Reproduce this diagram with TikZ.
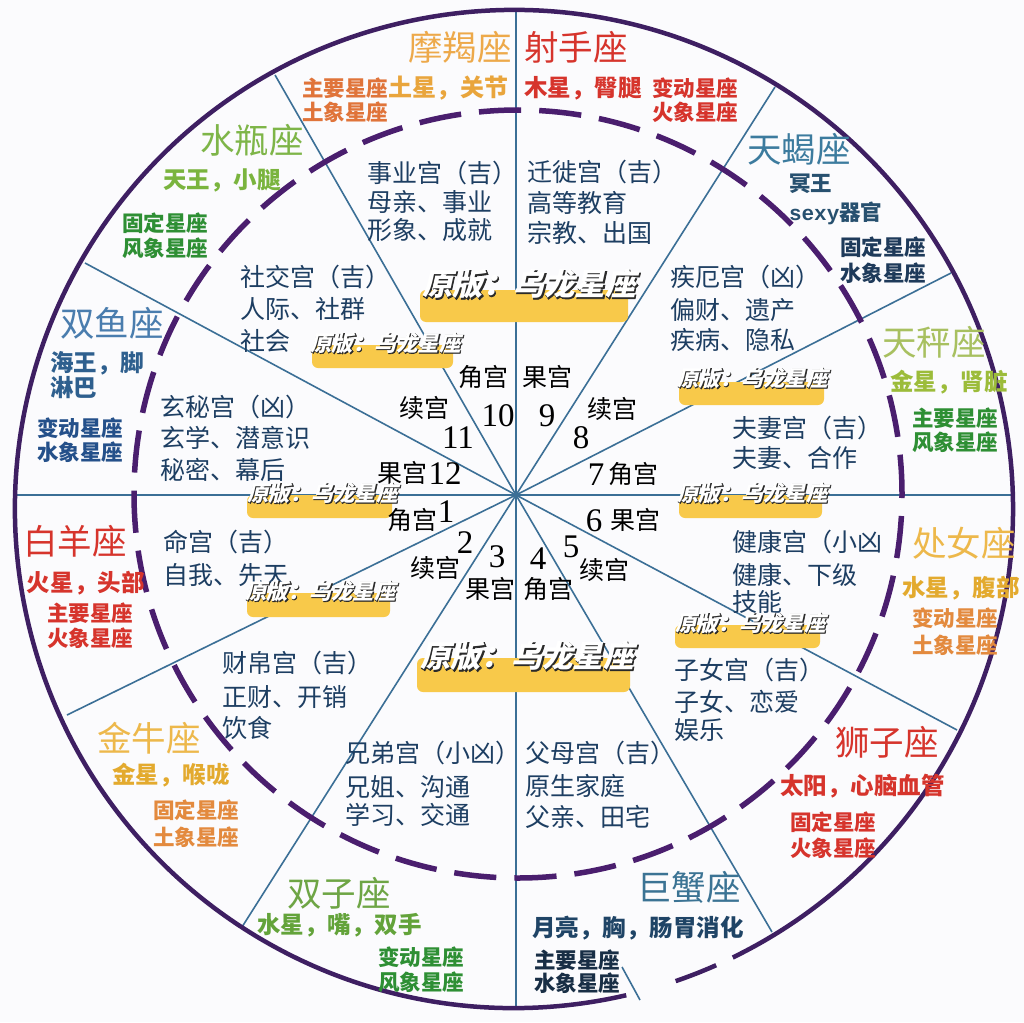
\documentclass[tikz,border=0pt]{standalone}
\usepackage{fontspec}
\newfontfamily\cjk{Noto Sans CJK SC}
\newfontfamily\cjkit{Noto Sans CJK SC}[FakeSlant=0.22]
\newfontfamily\cjkol{Noto Sans CJK SC}[FakeSlant=0.22, FakeBold=2.5]
\newfontfamily\numf{Liberation Serif}
\newfontfamily\monof{Liberation Mono}
\definecolor{bgc}{HTML}{FBFBFD}
\definecolor{housec}{HTML}{1D3E62}
\definecolor{linec}{HTML}{3B6F96}
\definecolor{outc}{HTML}{3E1F62}
\definecolor{dashc}{HTML}{4A1E6E}
\definecolor{barc}{HTML}{F8C94A}
\definecolor{shadc}{HTML}{2A2A2A}
\definecolor{mjA}{HTML}{EDA94A}
\definecolor{mjB}{HTML}{E0743A}
\definecolor{mjC}{HTML}{E9A53C}
\definecolor{redA}{HTML}{D6342C}
\definecolor{tealA}{HTML}{3C7B9E}
\definecolor{tealB}{HTML}{27506F}
\definecolor{navyA}{HTML}{1E3A5A}
\definecolor{oliveA}{HTML}{A8C060}
\definecolor{oliveB}{HTML}{9CBC3A}
\definecolor{greenD}{HTML}{2E8F34}
\definecolor{goldA}{HTML}{EDB84B}
\definecolor{goldB}{HTML}{E3AA2E}
\definecolor{orgA}{HTML}{E38A3E}
\definecolor{cancA}{HTML}{3B7394}
\definecolor{cancB}{HTML}{1F4466}
\definecolor{cancC}{HTML}{182E45}
\definecolor{gemA}{HTML}{6EA545}
\definecolor{gemB}{HTML}{63A33A}
\definecolor{pisA}{HTML}{4A7DAE}
\definecolor{pisB}{HTML}{2E5F8E}
\definecolor{pisC}{HTML}{24508A}
\definecolor{aqA}{HTML}{7EB548}
\definecolor{aqB}{HTML}{7AB43E}
\newcommand\ovltext[2]{%
\makebox[0pt][l]{\cjkol\color{shadc}\kern#2\raisebox{-#2}{#1}}%
\color{white}#1}
\begin{document}
\begin{tikzpicture}[x=1pt,y=-1pt,
 lbl/.style={inner sep=0pt, outer sep=0pt},
 house/.style={lbl, anchor=west, font=\cjk\fontsize{25}{25}\selectfont, text=housec, text height=22pt, text depth=3pt},
 sign/.style={lbl, anchor=west, font=\cjk\fontsize{34.5}{34.5}\selectfont, text height=30.4pt, text depth=4.1pt},
 planet/.style={lbl, anchor=west, font=\cjk\bfseries\fontsize{23.5}{23.5}\selectfont, text height=20.7pt, text depth=2.8pt},
 klass/.style={lbl, anchor=west, font=\cjk\bfseries\fontsize{21.5}{21.5}\selectfont, text height=18.9pt, text depth=2.6pt},
 kw/.style={lbl, anchor=center, font=\cjk\fontsize{25}{25}\selectfont, text=black, text height=22pt, text depth=3pt},
 num/.style={lbl, anchor=center, font=\numf\fontsize{33}{33}\selectfont, text=black, text height=22pt, text depth=0pt},
 ovs/.style={lbl, anchor=west, font=\cjkit\bfseries\fontsize{21.5}{21.5}\selectfont, text height=18.9pt, text depth=2.6pt},
 ovb/.style={lbl, anchor=west, font=\cjkit\bfseries\fontsize{30.5}{30.5}\selectfont, text height=26.8pt, text depth=3.7pt},
 bar/.style={fill=barc, rounded corners=6pt},
 radial/.style={draw=linec, line width=1.6pt},
]
% background / bounding box
\fill[bgc] (0,0) rectangle (1024,1022);
\path[use as bounding box] (0,0) rectangle (1024,1022);

% radial lines
\coordinate (c) at (516,495);
\coordinate (e1) at (516,10);
\coordinate (e2) at (775,87);
\coordinate (e3) at (951,273);
\coordinate (e4) at (1012,495);
\coordinate (e5) at (957,730);
\coordinate (e6) at (772,932);
\coordinate (e7) at (516,1008);
\coordinate (e8) at (242,927);
\coordinate (e9) at (67,715);
\coordinate (e10) at (15,495);
\coordinate (e11) at (85,263);
\coordinate (e12) at (275,75);
\foreach \i in {1,...,12} \draw[radial] (c) -- (e\i);
\coordinate (s1) at (622,967);
\coordinate (s2) at (640,1000);
\draw[radial] (s1) -- (s2);

% circles
\draw[outc, line width=4.5pt] (514,509) ++(77:499) arc[start angle=77, end angle=424, radius=499];
\draw[outc, line width=4.5pt] (514,509) ++(66.1:499) arc[start angle=66.1, end angle=71.1, radius=499];
\draw[dashc, line width=5.5pt, dash pattern=on 42.3pt off 18pt, dash phase=38.3pt] (518,494) circle[radius=384];

% yellow bars
\fill[bar] (420,290) rectangle (628,322);
\fill[bar] (312,345) rectangle (453,368);
\fill[bar] (679,382) rectangle (824,405);
\fill[bar] (247,495) rectangle (392,518);
\fill[bar] (679,495) rectangle (822,518);
\fill[bar] (247,593) rectangle (390,617);
\fill[bar] (675,625) rectangle (820,648);
\fill[bar] (417,658) rectangle (630,692);

% houses
\node[house] (h10a) at (367,173) {事业宫（吉）};
\node[house] (h10b) at (367,202) {母亲、事业};
\node[house] (h10c) at (367,230) {形象、成就};
\node[house] (h9a) at (527,172) {迁徙宫（吉）};
\node[house] (h9b) at (527,203) {高等教育};
\node[house] (h9c) at (527,233) {宗教、出国};
\node[house] (h11a) at (240,277) {社交宫（吉）};
\node[house] (h11b) at (240,309) {人际、社群};
\node[house] (h11c) at (240,341) {社会};
\node[house] (h8a) at (670,277) {疾厄宫（凶）};
\node[house] (h8b) at (670,310) {偏财、遗产};
\node[house] (h8c) at (670,340) {疾病、隐私};
\node[house] (h12a) at (160,407) {玄秘宫（凶）};
\node[house] (h12b) at (160,438) {玄学、潜意识};
\node[house] (h12c) at (160,470) {秘密、幕后};
\node[house] (h7a) at (732,428) {夫妻宫（吉）};
\node[house] (h7b) at (732,458) {夫妻、合作};
\node[house] (h1a) at (163,542) {命宫（吉）};
\node[house] (h1b) at (163,575) {自我、先天};
\node[house] (h6a) at (732,542) {健康宫（小凶};
\node[house] (h6b) at (732,575) {健康、下级};
\node[house] (h6c) at (732,602) {技能};
\node[house] (h2a) at (222,663) {财帛宫（吉）};
\node[house] (h2b) at (222,697) {正财、开销};
\node[house] (h2c) at (222,728) {饮食};
\node[house] (h5a) at (674,670) {子女宫（吉）};
\node[house] (h5b) at (674,702) {子女、恋爱};
\node[house] (h5c) at (674,730) {娱乐};
\node[house] (h3a) at (345,753) {兄弟宫（小凶）};
\node[house] (h3b) at (345,787) {兄姐、沟通};
\node[house] (h3c) at (345,815) {学习、交通};
\node[house] (h4a) at (525,753) {父母宫（吉）};
\node[house] (h4b) at (525,786) {原生家庭};
\node[house] (h4c) at (525,817) {父亲、田宅};

% center labels
\node[kw] (k10) at (483,377) {角宫};
\node[kw] (k9) at (547,377) {果宫};
\node[kw] (k11) at (424,408) {续宫};
\node[num] (n10) at (498,415) {10};
\node[num] (n9) at (547,415) {9};
\node[kw] (k8) at (612,409) {续宫};
\node[num] (n11) at (458,437) {11};
\node[num] (n8) at (581,437) {8};
\node[kw] (k12) at (402,473) {果宫};
\node[num] (n12) at (445,473) {12};
\node[num] (n7) at (596,474) {7};
\node[kw] (k7) at (633,474) {角宫};
\node[kw] (k1) at (412,520) {角宫};
\node[num] (n1) at (446,511) {1};
\node[num] (n2) at (465,542) {2};
\node[kw] (k2) at (435,568) {续宫};
\node[num] (n3) at (497,556) {3};
\node[kw] (k3) at (490,589) {果宫};
\node[num] (n4) at (538,558) {4};
\node[kw] (k4) at (548,589) {角宫};
\node[num] (n5) at (571,546) {5};
\node[kw] (k5) at (604,570) {续宫};
\node[num] (n6) at (594,520) {6};
\node[kw] (k6) at (635,520) {果宫};

% signs
\node[sign, text=mjA] (capr) at (408,47) {摩羯座};
\node[klass] (capr1) at (302,88) {\textcolor{mjB}{主要星座}\textcolor{mjC}{\fontsize{24}{24}\selectfont 土星，关节}};
\node[klass, text=mjB] (capr2) at (302,112) {土象星座};

\node[sign, text=redA] (sagi) at (524,47) {射手座};
\node[planet, text=redA] (sagi1) at (524,88) {木星，臀腿};
\node[klass, text=redA] (sagi2) at (652,88) {变动星座};
\node[klass, text=redA] (sagi3) at (652,112) {火象星座};

\node[sign, text=tealA] (scor) at (747,149) {天蝎座};
\node[klass, text=tealB] (scor1) at (789,183) {冥王};
\node[klass, text=tealB] (scor2) at (789,212) {{\monof\bfseries\fontsize{21}{21}\selectfont sexy}器官};
\node[klass, text=navyA] (scor3) at (840,247) {固定星座};
\node[klass, text=navyA] (scor4) at (840,273) {水象星座};

\node[sign, text=oliveA] (libr) at (882,342) {天秤座};
\node[planet, text=oliveB] (libr1) at (890,382) {金星，肾脏};
\node[klass, text=greenD] (libr2) at (912,418) {主要星座};
\node[klass, text=greenD] (libr3) at (912,442) {风象星座};

\node[sign, text=goldA] (virg) at (912,543) {处女座};
\node[planet, text=goldB] (virg1) at (902,588) {水星，腹部};
\node[klass, text=orgA] (virg2) at (912,618) {变动星座};
\node[klass, text=orgA] (virg3) at (912,645) {土象星座};

\node[sign, text=redA] (leo) at (835,742) {狮子座};
\node[planet, text=redA] (leo1) at (780,786) {太阳，心脑血管};
\node[klass, text=redA] (leo2) at (790,822) {固定星座};
\node[klass, text=redA] (leo3) at (790,848) {火象星座};

\node[sign, text=cancA] (canc) at (637,887) {巨蟹座};
\node[planet, text=cancB] (canc1) at (532,928) {月亮，胸，肠胃消化};
\node[klass, text=cancC] (canc2) at (534,960) {主要星座};
\node[klass, text=cancC] (canc3) at (534,983) {水象星座};

\node[sign, text=gemA] (gemi) at (287,893) {双子座};
\node[planet, text=gemB] (gemi1) at (257,925) {水星，嘴，双手};
\node[klass, text=greenD] (gemi2) at (378,957) {变动星座};
\node[klass, text=greenD] (gemi3) at (378,982) {风象星座};

\node[sign, text=goldA] (taur) at (97,738) {金牛座};
\node[planet, text=goldB] (taur1) at (112,775) {金星，喉咙};
\node[klass, text=orgA] (taur2) at (153,810) {固定星座};
\node[klass, text=orgA] (taur3) at (153,837) {土象星座};

\node[sign, text=redA] (arie) at (23,541) {白羊座};
\node[planet, text=redA] (arie1) at (27,583) {火星，头部};
\node[klass, text=redA] (arie2) at (47,613) {主要星座};
\node[klass, text=redA] (arie3) at (47,638) {火象星座};

\node[sign, text=pisA] (pisc) at (60,323) {双鱼座};
\node[planet, text=pisB] (pisc1) at (50,363) {海王，脚};
\node[planet, text=pisB] (pisc2) at (50,388) {淋巴};
\node[klass, text=pisC] (pisc3) at (37,428) {变动星座};
\node[klass, text=pisC] (pisc4) at (37,452) {水象星座};

\node[sign, text=aqA] (aqua) at (200,140) {水瓶座};
\node[planet, text=aqB] (aqua1) at (163,180) {天王，小腿};
\node[klass, text=greenD] (aqua2) at (122,223) {固定星座};
\node[klass, text=greenD] (aqua3) at (122,248) {风象星座};

% overlay texts
\node[ovb] (ov1) at (422,284) {\ovltext{原版：乌龙星座}{1.0pt}};
\node[ovs] (ov2) at (310,343) {\ovltext{原版：乌龙星座}{0.7pt}};
\node[ovs] (ov3) at (677,378) {\ovltext{原版：乌龙星座}{0.7pt}};
\node[ovs] (ov4) at (247,493) {\ovltext{原版：乌龙星座}{0.7pt}};
\node[ovs] (ov5) at (677,493) {\ovltext{原版：乌龙星座}{0.7pt}};
\node[ovs] (ov6) at (245,591) {\ovltext{原版：乌龙星座}{0.7pt}};
\node[ovs] (ov7) at (675,623) {\ovltext{原版：乌龙星座}{0.7pt}};
\node[ovb] (ov8) at (420,656) {\ovltext{原版：乌龙星座}{1.0pt}};
\end{tikzpicture}
\end{document}
